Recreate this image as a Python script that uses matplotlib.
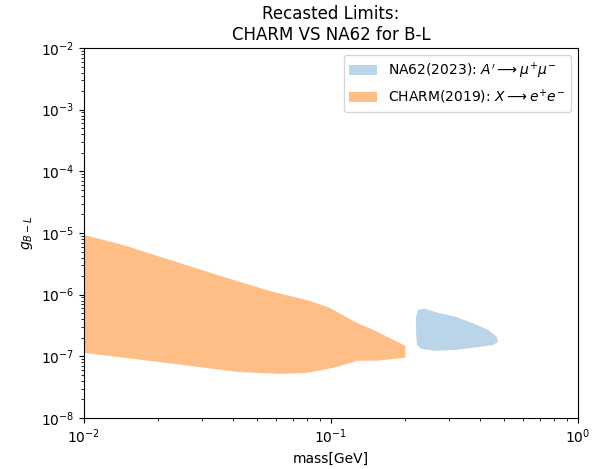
import matplotlib
matplotlib.use("Agg")
import matplotlib.pyplot as plt

# CHARM (2019) excluded region boundary (GeV, coupling)
charm_mass = [0.01, 0.0144, 0.018, 0.0366, 0.0582, 0.080, 0.099, 0.127, 0.148, 0.2,
              0.2, 0.153, 0.128, 0.102, 0.080, 0.062, 0.0416, 0.0229, 0.01]
charm_g = [9.3e-6, 6.4e-6, 4.8e-6, 1.95e-6, 1.11e-6, 8.2e-7, 6.1e-7, 3.5e-7, 2.7e-7, 1.48e-7,
           9.5e-8, 8.5e-8, 8.5e-8, 6.5e-8, 5.4e-8, 5.2e-8, 5.6e-8, 7.6e-8, 1.14e-7]

# NA62 (2023) excluded island
na62_mass = [0.221, 0.225, 0.240, 0.271, 0.318, 0.372, 0.432, 0.470, 0.474, 0.453,
             0.372, 0.318, 0.264, 0.233, 0.223, 0.221]
na62_g = [4.4e-7, 5.7e-7, 5.9e-7, 5.1e-7, 4.4e-7, 3.5e-7, 2.7e-7, 2.07e-7, 1.72e-7, 1.53e-7,
          1.37e-7, 1.27e-7, 1.23e-7, 1.32e-7, 1.53e-7, 2.4e-7]

fig = plt.figure(figsize=(5.93, 4.69), dpi=100)
ax = fig.add_axes([0.1417, 0.1087, 0.8330, 0.7890])

ax.fill(na62_mass, na62_g, color='tab:blue', alpha=0.3, lw=0,
        label=r"NA62(2023): $A' \longrightarrow \mu^{+}\mu^{-}$")
ax.fill(charm_mass, charm_g, color='tab:orange', alpha=0.5, lw=0,
        label=r"CHARM(2019): $X \longrightarrow e^{+}e^{-}$")

ax.set_xscale('log')
ax.set_yscale('log')
ax.set_xlim(1e-2, 1e0)
ax.set_ylim(1e-8, 1e-2)
ax.set_xlabel('mass[GeV]')
ax.set_ylabel(r'$g_{B-L}$')
ax.set_title('Recasted Limits:\nCHARM VS NA62 for B-L')
ax.legend(loc='upper right')

fig.savefig('out.png', dpi=100)
